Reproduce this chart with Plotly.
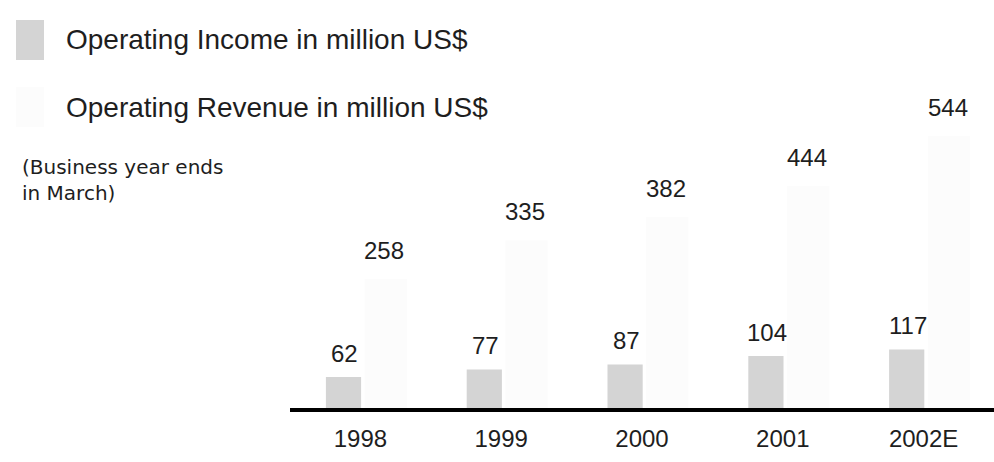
import plotly.graph_objects as go

# Fiscal years and operating figures (million US$)
years = ["1998", "1999", "2000", "2001", "2002E"]
operating_income = [62, 77, 87, 104, 117]
operating_revenue = [258, 335, 382, 444, 544]

legend_labels = ["Operating Income in million US$", "Operating Revenue in million US$"]
note_text = "(Business year ends<br>in March)"

W, H = 994, 462
ML, MR, MT, MB = 290, 0, 60, 54
PW, PH = W - ML - MR, H - MT - MB
FONT = "Arial, Liberation Sans, sans-serif"
TEXT = "#1e1e1e"
INCOME_COLOR = "#d4d4d4"
REVENUE_COLOR = "#fcfcfc"


def px_x(x):
    return (x - ML) / PW


def px_y(y):
    return (H - MB - y) / PH


fig = go.Figure()
fig.add_trace(go.Bar(
    x=years, y=operating_income, name=legend_labels[0],
    width=0.25, offset=-0.245,
    marker=dict(color=INCOME_COLOR, line=dict(width=0)),
))
fig.add_trace(go.Bar(
    x=years, y=operating_revenue, name=legend_labels[1],
    width=0.3, offset=0.03,
    marker=dict(color=REVENUE_COLOR, line=dict(width=0)),
))

annotations = []
for i, v in enumerate(operating_income):
    annotations.append(dict(x=i, y=v, xref="x", yref="y", text=str(v), showarrow=False,
                            xshift=-16, yshift=24, yanchor="middle",
                            font=dict(family=FONT, size=24, color=TEXT)))
for i, v in enumerate(operating_revenue):
    annotations.append(dict(x=i, y=v, xref="x", yref="y", text=str(v), showarrow=False,
                            xshift=24, yshift=29, yanchor="middle",
                            font=dict(family=FONT, size=24, color=TEXT)))

# legend block drawn at the top left
shapes = []
for label, col, yc in zip(legend_labels, [INCOME_COLOR, REVENUE_COLOR], [40, 107]):
    shapes.append(dict(type="rect", xref="paper", yref="paper",
                       x0=px_x(16), x1=px_x(44), y0=px_y(yc - 20), y1=px_y(yc + 20),
                       fillcolor=col, line=dict(width=0), layer="above"))
    annotations.append(dict(x=px_x(64), y=px_y(yc), xref="paper", yref="paper",
                            text=label, showarrow=False, xanchor="left", yanchor="middle",
                            font=dict(family=FONT, size=28, color=TEXT)))

annotations.append(dict(x=px_x(20), y=px_y(180), xref="paper", yref="paper",
                        text=note_text, showarrow=False, xanchor="left", yanchor="middle",
                        align="left",
                        font=dict(family="DejaVu Sans, sans-serif", size=20, color=TEXT)))

fig.update_layout(
    width=W, height=H,
    margin=dict(l=ML, r=MR, t=MT, b=MB),
    paper_bgcolor="white", plot_bgcolor="white",
    showlegend=False,
    barmode="group",
    annotations=annotations,
    shapes=shapes,
    xaxis=dict(type="category", categoryorder="array", categoryarray=years,
               range=[-0.5, len(years) - 0.5],
               showline=True, linecolor="black", linewidth=4,
               showgrid=False, ticks="", ticklabelstandoff=6,
               tickfont=dict(family=FONT, size=24, color=TEXT)),
    yaxis=dict(range=[0, PH / 0.5], visible=False, showgrid=False, zeroline=False),
)

fig.write_html("out.html")
